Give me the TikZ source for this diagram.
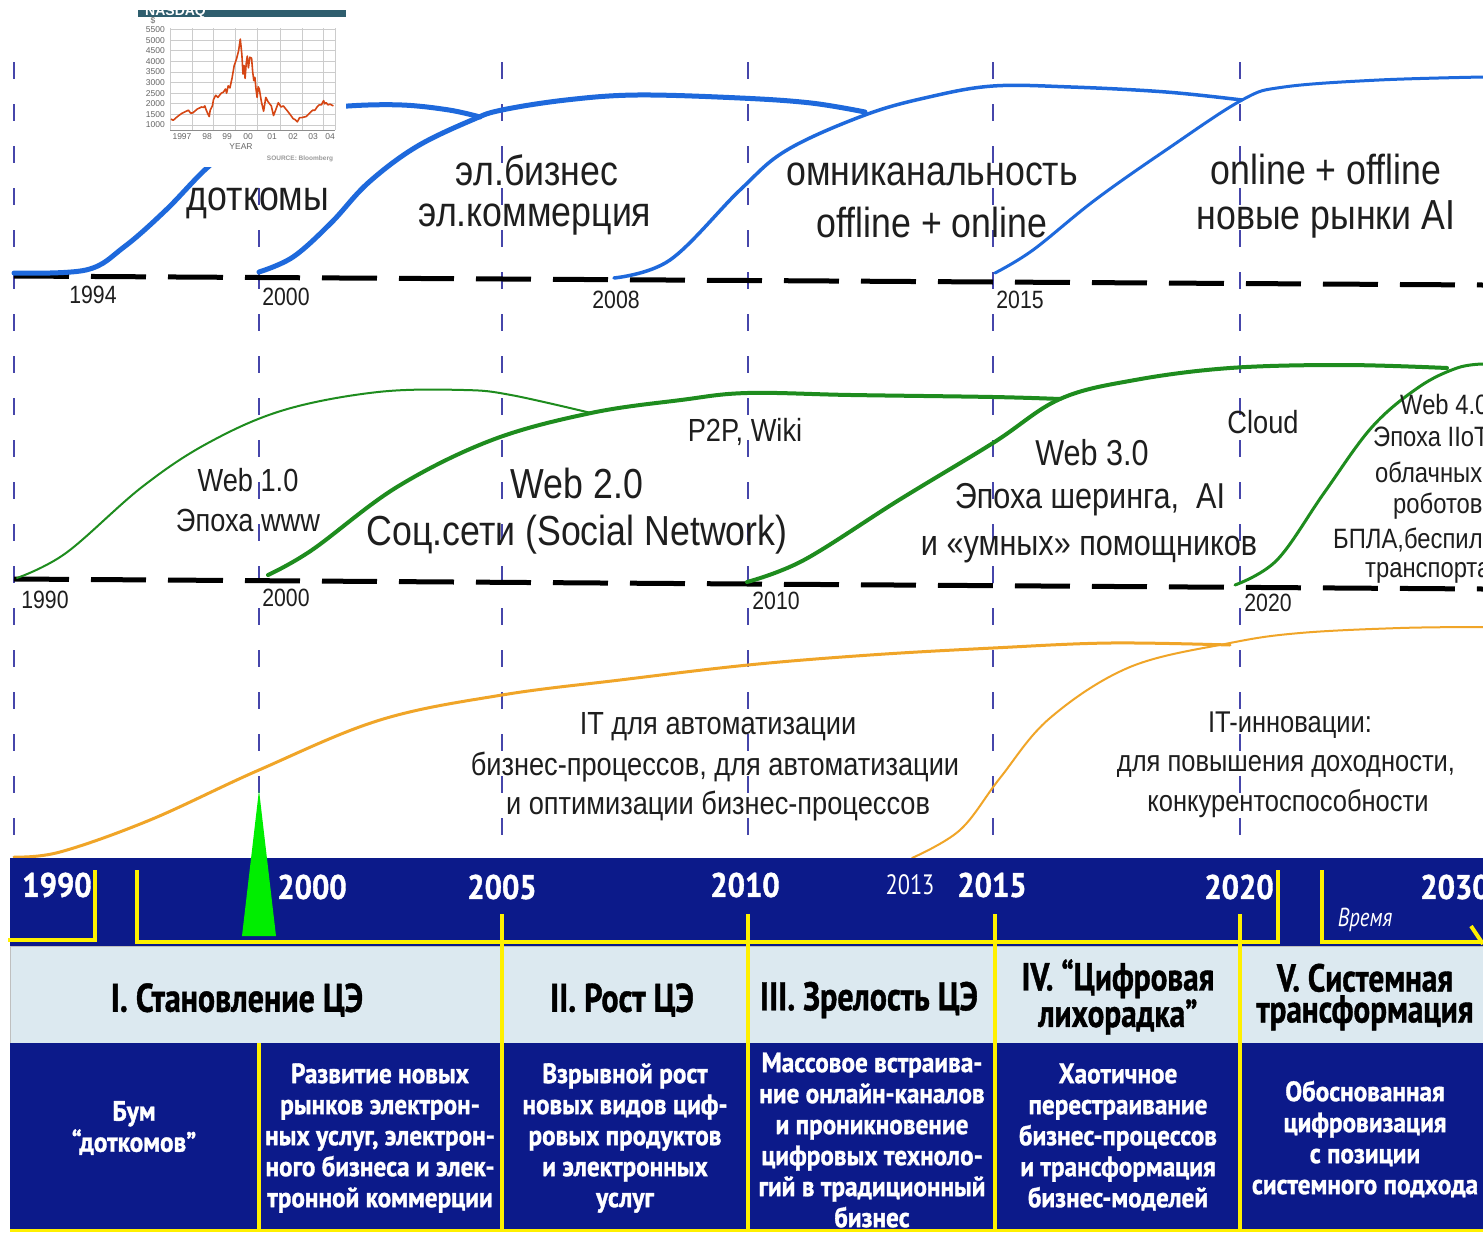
\documentclass[tikz,border=0pt]{standalone}
\usepackage{fontspec}
\setmainfont{Liberation Sans}
\newfontfamily\lab[FakeStretch=0.85]{Liberation Sans}
\newfontfamily\band[FakeStretch=0.8]{PT Sans}
\newfontfamily\bodyf[FakeStretch=0.9,BoldFeatures={FakeBold=1.2}]{PT Sans}
\newfontfamily\hdr[FakeStretch=0.8,BoldFeatures={FakeBold=1}]{PT Sans}
\usetikzlibrary{arrows.meta}
\definecolor{vline}{RGB}{70,70,170}
\definecolor{bcurve}{RGB}{30,105,220}
\definecolor{gcurve}{RGB}{30,140,30}
\definecolor{ocurve}{RGB}{240,165,40}
\definecolor{navy}{RGB}{12,26,138}
\definecolor{lightrow}{RGB}{220,233,240}
\definecolor{yel}{RGB}{255,240,0}
\definecolor{txt}{RGB}{30,30,30}
\definecolor{nasdaq}{RGB}{213,70,20}
\definecolor{tealbar}{RGB}{47,94,110}
\definecolor{trigreen}{RGB}{0,238,0}
\newcommand\fsz[2]{\fontsize{#1}{#2}\selectfont}
\begin{document}
\begin{tikzpicture}[x=1pt,y=-1pt,
  vdash/.style={vline,line width=2pt,dash pattern=on 17pt off 25pt},
  hdash/.style={black,line width=5pt,dash pattern=on 55pt off 22pt},
  lblL/.style={text=txt,font=\lab\fsz{42}{50},inner sep=0pt},
  lblM/.style={text=txt,font=\lab\fsz{36}{44},inner sep=0pt},
  lblS/.style={text=txt,font=\lab\fsz{32}{38},inner sep=0pt},
  lblO/.style={text=txt,font=\lab\fsz{30}{36},inner sep=0pt},
  lblW/.style={text=txt,font=\lab\fsz{28}{32},inner sep=0pt,anchor=west},
  yr/.style={text=txt,font=\lab\fsz{25}{25},inner sep=0pt},
  byr/.style={text=white,font=\bodyf\bfseries\fsz{34}{34},inner sep=0pt},
  hd/.style={text=black,font=\hdr\bfseries\fsz{40}{40},inner sep=0pt,align=center},
  hdtwo/.style={text=black,font=\hdr\bfseries\fsz{39}{31},inner sep=0pt,align=center},
  body/.style={text=white,font=\bodyf\bfseries\fsz{28}{31},inner sep=0pt,align=center},
  ylab/.style={text=black!60,font=\fsz{8.5}{9},inner sep=0pt},
  ysep/.style={yel,line width=4pt},
]
\path[use as bounding box] (0,0) rectangle (1483,1232);
\clip (0,0) rectangle (1483,1232);
\fill[white] (0,0) rectangle (1483,1232);

% vertical dashed year lines
\foreach \xx in {14,259,502,748,993,1240}
  \draw[vdash] (\xx,62) -- (\xx,856);

% black dashed baselines
\draw[hdash] (14,276) -- (1483,285);
\draw[hdash] (14,579) -- (1483,589);

% blue curves
\draw[bcurve,line width=5pt,line cap=round] plot[smooth,tension=0.6] coordinates {(14,273) (86,270) (124,247) (166,210) (208,167) (250,135) (300,112) (348,106) (402,105) (449,110) (480,117)};
\draw[bcurve,line width=5pt,line cap=round] plot[smooth,tension=0.6] coordinates {(259,272) (293,257) (331,223) (368,183) (416,147) (472,120) (502,110) (566,100) (637,95) (740,98) (811,103) (865,112)};
\draw[bcurve,line width=3.5pt,line cap=round] plot[smooth,tension=0.6] coordinates {(614,278) (670,260) (740,190) (787,150) (865,115) (929,97) (993,86) (1071,87) (1166,92) (1242,100)};
\draw[bcurve,line width=3pt,line cap=round] plot[smooth,tension=0.6] coordinates {(995,273) (1033,250) (1095,200) (1166,150) (1242,100) (1284,87) (1379,80) (1483,77)};

% green curves
\draw[gcurve,line width=2pt,line cap=round] plot[smooth,tension=0.6] coordinates {(17,578) (66,553) (142,487) (208,443) (284,410) (378,392) (464,390) (511,395) (591,413)};
\draw[gcurve,line width=4pt,line cap=round] plot[smooth,tension=0.6] coordinates {(268,575) (312,550) (397,487) (492,440) (591,413) (681,400) (747,393) (851,395) (993,397) (1060,399)};
\draw[gcurve,line width=4pt,line cap=round] plot[smooth,tension=0.6] coordinates {(747,582) (804,560) (899,500) (993,443) (1060,399) (1135,380) (1230,368) (1343,365) (1447,368)};
\draw[gcurve,line width=3pt,line cap=round] plot[smooth,tension=0.6] coordinates {(1235,585) (1277,560) (1324,493) (1372,427) (1419,387) (1457,368) (1483,364)};

% orange curves
\draw[ocurve,line width=3pt,line cap=round] plot[smooth,tension=0.6] coordinates {(14,857) (60,852) (150,820) (259,770) (380,720) (502,695) (620,680) (748,665) (870,655) (993,648) (1110,643) (1230,645)};
\draw[ocurve,line width=2pt,line cap=round] plot[smooth,tension=0.6] coordinates {(912,858) (960,830) (1000,778) (1050,718) (1130,667) (1230,643) (1300,633) (1400,628) (1483,627)};

% top band labels
\node[lblL] (t1) at (258,203) {доткомы};
\node[lblL] (t2) at (537,170) {эл.бизнес};
\node[lblL] (t3) at (535,220) {эл.коммерция};
\node[lblL] (t4) at (932,174) {омниканальность};
\node[lblL] (t5) at (932,222) {offline + online};
\node[lblL] (t6) at (1326,169) {online + offline};
\node[lblL] (t7) at (1326,219) {новые рынки AI};
\node[yr] (y1) at (93,295) {1994};
\node[yr] (y2) at (286,297) {2000};
\node[yr] (y3) at (616,300) {2008};
\node[yr] (y4) at (1020,300) {2015};

% middle band labels
\node[lblS] (m1) at (248,480) {Web 1.0};
\node[lblS] (m2) at (248,520) {Эпоха www};
\node[lblL] (m3) at (577,483) {Web 2.0};
\node[lblL] (m4) at (577,535) {Соц.сети (Social Network)};
\node[lblS] (m5) at (745,432) {P2P, Wiki};
\node[lblM] (m6) at (1092,453) {Web 3.0};
\node[lblM] (m7) at (1090,500) {Эпоха шеринга,~~AI};
\node[lblM] (m8) at (1089,550) {и «умных» помощников};
\node[lblS] (m9) at (1263,422) {Cloud};
\node[lblW] (w1) at (1400,404) {Web 4.0};
\node[lblW] (w2) at (1373,437) {Эпоха IIoT};
\node[lblW] (w3) at (1375,472) {облачных};
\node[lblW] (w4) at (1393,506) {роботов,};
\node[lblW] (w5) at (1333,540) {БПЛА,беспил.};
\node[lblW] (w6) at (1365,573) {транспорта};
\node[yr] (y5) at (45,600) {1990};
\node[yr] (y6) at (286,598) {2000};
\node[yr] (y7) at (776,601) {2010};
\node[yr] (y8) at (1268,603) {2020};

% orange band labels
\node[lblS] (o1) at (718,727) {IT для автоматизации};
\node[lblS] (o2) at (715,767) {бизнес-процессов, для автоматизации};
\node[lblS] (o3) at (718,806) {и оптимизации бизнес-процессов};
\node[lblO] (o4) at (1290,725) {IT-инновации:};
\node[lblO] (o5) at (1286,766) {для повышения доходности,};
\node[lblO] (o6) at (1288,804) {конкурентоспособности};

% NASDAQ inset
\fill[white] (138,10) rectangle (346,167);
\fill[tealbar] (138,10) rectangle (346,17);
\begin{scope}
\clip (138,10) rectangle (346,17);
\node[text=white,font=\bfseries\fsz{14}{14},inner sep=0pt,anchor=base west] (nq) at (145,15) {NASDAQ};
\end{scope}
\foreach \yy in {125,114.4,103.8,93.2,82.6,72,61.4,50.8,40.2,29.6}
  \draw[black!20,line width=0.7pt] (170,\yy) -- (335,\yy);
\foreach \xx in {170,192,213,235,257,280,302,323,335}
  \draw[black!20,line width=0.7pt] (\xx,28) -- (\xx,130);
\draw[black!45,line width=0.8pt] (170,130) -- (335,130);
\node[ylab] (d0) at (153,21) {\$};
\foreach \yy/\vv in {125/1000,114.4/1500,103.8/2000,93.2/2500,82.6/3000,72/3500,61.4/4000,50.8/4500,40.2/5000,29.6/5500}
  \node[ylab,anchor=east] at (165,\yy) {\vv};
\foreach \xx/\tt in {182/1997,207/98,227/99,248/00,272/01,293/02,313/03,330/04}
  \node[ylab] at (\xx,137) {\tt};
\node[ylab] (yrl) at (241,147) {YEAR};
\node[text=black!40,font=\bfseries\fsz{6.5}{7},inner sep=0pt] (src) at (300,159) {SOURCE: Bloomberg};
\draw[nasdaq,line width=1.6pt,line join=round] plot coordinates {
(171,119.1) (173.2,120.3) (177.5,116.5) (181.9,113.3) (186.3,111.2) (188.4,110.2) (190.6,113.1) (192.8,112.9)
(197.2,109.1) (201.5,107.0) (203.7,107.4) (204.8,105.9) (206.3,110.2) (208.1,114.4) (209.2,116.5) (210.2,110.2)
(212.4,105.9) (213.5,99.6) (215.7,95.3) (217.9,97.4) (221.2,93.2) (223.4,92.1) (225.5,89.0) (226.6,93.2)
(228.2,85.8) (229.9,87.9) (232.0,78.4) (234.2,65.6) (236.4,59.3) (238.6,50.8) (240.3,39.1) (241.9,55.0)
(243.0,74.1) (244.1,65.6) (245.1,78.4) (246.2,63.5) (247.3,56.1) (248.4,67.8) (249.9,57.2) (251.6,58.2)
(252.7,72.0) (253.8,80.5) (254.9,77.3) (256.0,89.0) (257.1,97.4) (258.2,86.8) (259.3,89.0) (261.4,101.7)
(263.6,111.2) (265.8,97.4) (268.0,101.7) (271.3,105.9) (273.5,115.5) (275.6,110.2) (278.3,102.7) (281.1,107.0)
(283.3,105.9) (287.6,111.2) (290.9,115.5) (293.1,118.6) (295.3,119.7) (297.4,121.8) (299.6,117.6) (301.8,117.6)
(306.2,116.5) (309.4,113.3) (312.7,110.2) (314.9,110.2) (317.1,107.0) (319.2,104.9) (321.4,104.9) (323.6,100.6)
(324.7,103.8) (326.2,102.7) (328.0,104.9) (330.1,104.2) (333.4,105.9)};

% bottom band
\fill[navy] (10,858) rectangle (1483,946);
\fill[lightrow] (10,946) rectangle (1483,1043);
\draw[black!25,line width=1pt] (10,946) rectangle (1490,1043);
\fill[navy] (10,1043) rectangle (1483,1232);
\fill[trigreen] (259,790) -- (242,936) -- (276,936) -- cycle;

% yellow timeline lines
\draw[ysep,line cap=rect] (95,872) -- (95,940) -- (10,940);
\draw[ysep,line cap=rect] (137,872) -- (137,942) -- (1278,942) -- (1278,872);
\draw[ysep,line cap=rect] (1322,872) -- (1322,942) -- (1483,942);
\draw[ysep] (1483,944) -- (1471,926);
\foreach \xx in {502,748,995,1240}
  \draw[ysep] (\xx,914) -- (\xx,1232);
\draw[ysep] (259,1043) -- (259,1232);
\draw[yel,line width=3pt] (10,1230) -- (1483,1230);

% band years
\node[byr] (b1) at (57,885) {1990};
\node[byr] (b2) at (312,887) {2000};
\node[byr] (b3) at (502,887) {2005};
\node[byr] (b4) at (745,885) {2010};
\node[text=white,font=\band\fsz{28}{28},inner sep=0pt] (b5) at (910,885) {2013};
\node[byr] (b6) at (992,885) {2015};
\node[byr] (b7) at (1239,887) {2020};
\node[byr] (b8) at (1455,887) {2030};
\node[text=white,font=\band\itshape\fsz{26}{26},inner sep=0pt] (vr) at (1365,920) {Время};

% headers
\node[hd] (h1) at (237,1000) {I. Становление ЦЭ};
\node[hd] (h2) at (622,1000) {II. Рост ЦЭ};
\node[hd] (h3) at (869,1000) {III. Зрелость ЦЭ};
\node[hdtwo] (h4) at (1118,997) {IV. “Цифровая\\лихорадка”};
\node[hdtwo] (h5) at (1365,997) {V. Системная\\трансформация};

% body texts
\node[body] (c1) at (134,1128) {Бум\\“доткомов”};
\node[body] (c2) at (380,1138) {Развитие новых\\рынков электрон-\\ных услуг, электрон-\\ного бизнеса и элек-\\тронной коммерции};
\node[body] (c3) at (625,1138) {Взрывной рост\\новых видов циф-\\ровых продуктов\\и электронных\\услуг};
\node[body] (c4) at (872,1140) {Массовое встраива-\\ние онлайн-каналов\\и проникновение\\цифровых техноло-\\гий в традиционный\\бизнес};
\node[body] (c5) at (1118,1137) {Хаотичное\\перестраивание\\бизнес-процессов\\и трансформация\\бизнес-моделей};
\node[body] (c6) at (1365,1139) {Обоснованная\\цифровизация\\с позиции\\системного подхода};
\end{tikzpicture}
\end{document}
